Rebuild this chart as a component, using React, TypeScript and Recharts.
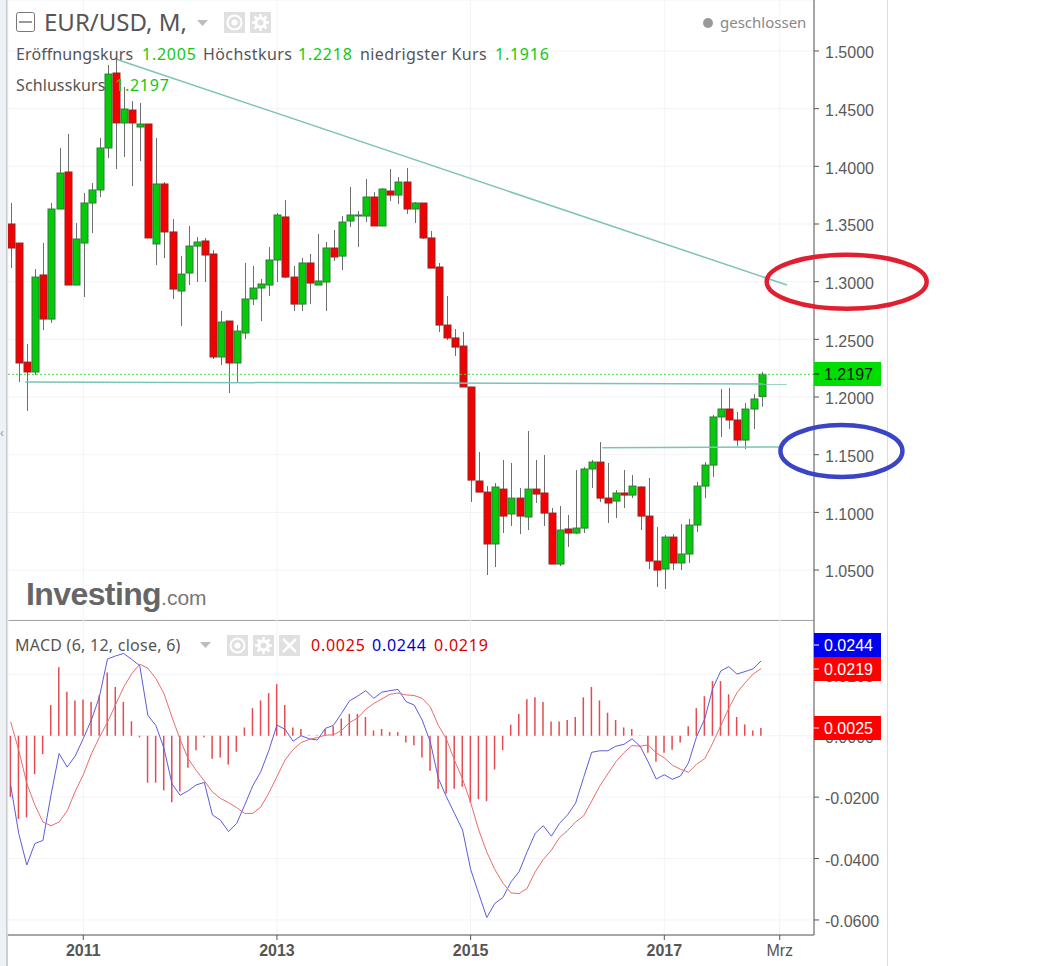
import { Bar, CartesianGrid, ComposedChart, Line, ReferenceDot, ReferenceLine, XAxis, YAxis } from "recharts";

// monthly candles, first one is 2010-04, month 0 = 2011-01
const firstMonth = -9;

const opens = [
  1.35, 1.3335, 1.2303, 1.2217, 1.3058, 1.2676, 1.363, 1.3951, 1.2971,
  1.3335, 1.3682, 1.3795, 1.4159, 1.4809, 1.4376, 1.4488, 1.4341, 1.4367, 1.3327, 1.3847, 1.3431,
  1.2919, 1.3075, 1.3309, 1.3353, 1.324, 1.2347, 1.2659, 1.2295, 1.2555, 1.285, 1.2945, 1.2971,
  1.3188, 1.3561, 1.304, 1.2806, 1.3162, 1.2971, 1.2997, 1.3292, 1.3222, 1.3526, 1.357, 1.3569,
  1.3734, 1.3483, 1.3786, 1.3751, 1.3864, 1.363, 1.3682, 1.3379, 1.3127, 1.2624, 1.2512, 1.2442,
  1.2087, 1.1272, 1.1176, 1.0726, 1.1202, 1.0986, 1.1124, 1.096, 1.1202, 1.1168, 1.0994, 1.0552,
  1.0856, 1.0821, 1.0864, 1.1376, 1.1436, 1.1124, 1.1098, 1.1168, 1.115, 1.122, 1.0968, 1.0578,
  1.0509, 1.0786, 1.0561, 1.0639, 1.089, 1.1228, 1.141, 1.1827, 1.1896, 1.1801, 1.1627, 1.1896, 1.2005,
];
const highs = [
  1.3682, 1.3335, 1.246, 1.311, 1.3335, 1.3682, 1.4159, 1.428, 1.3509,
  1.3769, 1.3855, 1.4246, 1.4878, 1.4922, 1.4688, 1.4566, 1.4549, 1.4367, 1.4246, 1.3864, 1.3543,
  1.3222, 1.3483, 1.3387, 1.3379, 1.3274, 1.2746, 1.2659, 1.2624, 1.3162, 1.3136, 1.3023, 1.33,
  1.3595, 1.3708, 1.3136, 1.3205, 1.324, 1.3413, 1.3344, 1.3448, 1.3569, 1.3821, 1.3613, 1.389,
  1.3777, 1.3812, 1.3977, 1.3907, 1.3985, 1.3691, 1.3682, 1.3439, 1.3162, 1.2876, 1.259, 1.2564,
  1.2087, 1.1523, 1.1228, 1.1254, 1.1454, 1.1428, 1.1211, 1.1705, 1.1454, 1.1497, 1.1038, 1.1055,
  1.0977, 1.1367, 1.1393, 1.1454, 1.161, 1.1428, 1.1194, 1.1367, 1.1324, 1.1228, 1.1298, 1.0873,
  1.0804, 1.0812, 1.0899, 1.0942, 1.1263, 1.1436, 1.1844, 1.2069, 1.2078, 1.187, 1.1948, 1.2026, 1.2218,
];
const lows = [
  1.3118, 1.213, 1.1879, 1.2191, 1.2581, 1.2642, 1.363, 1.2971, 1.2971,
  1.2867, 1.3422, 1.3734, 1.4072, 1.3977, 1.4081, 1.3829, 1.4046, 1.3379, 1.3144, 1.3205, 1.285,
  1.2616, 1.2971, 1.2997, 1.2997, 1.2329, 1.2277, 1.2035, 1.213, 1.2503, 1.2798, 1.2659, 1.2876,
  1.2997, 1.3032, 1.2746, 1.2746, 1.2806, 1.2971, 1.2746, 1.3179, 1.3101, 1.3474, 1.33, 1.3517,
  1.3483, 1.3483, 1.3699, 1.3673, 1.3587, 1.3509, 1.337, 1.3118, 1.2564, 1.2494, 1.2355, 1.2087,
  1.109, 1.1176, 1.0457, 1.0526, 1.0821, 1.0882, 1.0812, 1.0847, 1.1081, 1.0882, 1.0552, 1.0535,
  1.07, 1.0812, 1.0821, 1.1211, 1.109, 1.0908, 1.0951, 1.1038, 1.1124, 1.0847, 1.0509, 1.0353,
  1.0335, 1.05, 1.05, 1.0561, 1.083, 1.1124, 1.1306, 1.1653, 1.1723, 1.1575, 1.1549, 1.1723, 1.1916,
];
const closes = [
  1.3292, 1.2295, 1.2217, 1.304, 1.2676, 1.363, 1.3942, 1.2971, 1.337,
  1.3682, 1.3795, 1.4159, 1.48, 1.4376, 1.4497, 1.4376, 1.4367, 1.3379, 1.3847, 1.3431, 1.2936,
  1.3066, 1.3309, 1.3344, 1.3231, 1.2347, 1.265, 1.2295, 1.2572, 1.285, 1.2945, 1.298, 1.3188,
  1.3578, 1.304, 1.2806, 1.3162, 1.2988, 1.3006, 1.3292, 1.3214, 1.3517, 1.3578, 1.3578, 1.3734,
  1.3483, 1.3803, 1.3751, 1.3864, 1.363, 1.3682, 1.3379, 1.3118, 1.2624, 1.2512, 1.2433, 1.2087,
  1.128, 1.1176, 1.0726, 1.122, 1.0968, 1.1124, 1.0968, 1.1202, 1.1159, 1.0994, 1.0552, 1.0847,
  1.0821, 1.0864, 1.1376, 1.1436, 1.1124, 1.1081, 1.1168, 1.115, 1.1228, 1.0968, 1.0578, 1.05,
  1.0786, 1.0561, 1.0639, 1.089, 1.1228, 1.141, 1.1827, 1.1896, 1.1801, 1.1627, 1.1896, 1.1983, 1.2197,
];

const histogram = [
  -0.0199, -0.0271, -0.0266, -0.0125, -0.006, 0.01, 0.0223, 0.0143, 0.0115,
  0.0118, 0.011, 0.0132, 0.0206, 0.0159, 0.011, 0.0047, -0.0005, -0.0153, -0.0153, -0.0178, -0.0217,
  -0.0182, -0.0104, -0.0047, -0.0005, -0.0075, -0.0071, -0.0094, -0.0052, 0.0027, 0.009, 0.0115, 0.0139,
  0.0168, 0.01, 0.0027, 0.0022, 0.0002, 0.0002, 0.0022, 0.0031, 0.0056, 0.0071, 0.0071, 0.0061,
  0.0017, 0.0022, 0.0012, 0.0012, -0.0022, -0.0031, -0.0071, -0.0114, -0.0173, -0.0188, -0.0173, -0.0166,
  -0.0218, -0.0207, -0.0213, -0.011, -0.0047, 0.0036, 0.0071, 0.0119, 0.0125, 0.011, 0.0046, 0.0046,
  0.0051, 0.0061, 0.0125, 0.0159, 0.0115, 0.0075, 0.0051, 0.0027, 0.0022, 0.0001, -0.0055, -0.0085,
  -0.0055, -0.0046, -0.0022, 0.0031, 0.009, 0.0129, 0.0178, 0.0178, 0.0135, 0.0061, 0.0037, 0.0017, 0.0025,
];
const macdLine = [
  -0.0161, -0.0318, -0.0421, -0.0351, -0.0341, -0.0193, -0.0058, -0.0102, -0.0066,
  -0.0009, 0.0051, 0.0127, 0.025, 0.026, 0.0268, 0.0249, 0.0228, 0.0067, 0.0033, -0.0041, -0.0157,
  -0.0194, -0.0179, -0.016, -0.0152, -0.0258, -0.0275, -0.0312, -0.0286, -0.0226, -0.0163, -0.0117, -0.0047,
  0.0035, 0.0021, -0.0018, 0, -0.001, -0.0014, 0.0024, 0.0034, 0.0073, 0.0114, 0.0129, 0.0147,
  0.0122, 0.0142, 0.0147, 0.0151, 0.0111, 0.01, 0.0051, -0.002, -0.0139, -0.0199, -0.0253, -0.0307,
  -0.0435, -0.0514, -0.0592, -0.0546, -0.0527, -0.0476, -0.0443, -0.0378, -0.0318, -0.0293, -0.0327, -0.0286,
  -0.0258, -0.022, -0.0136, -0.0054, -0.0049, -0.0049, -0.0034, -0.0028, -0.001, -0.0034, -0.0085, -0.0141,
  -0.0127, -0.0142, -0.0131, -0.0088, -0.0003, 0.0054, 0.0154, 0.0211, 0.0225, 0.0201, 0.0209, 0.0218, 0.0244,
];
const signalLine = [
  0.0045, -0.0047, -0.0155, -0.0226, -0.0281, -0.0293, -0.0281, -0.0245, -0.0181,
  -0.0127, -0.0059, -0.0005, 0.0044, 0.0101, 0.0158, 0.0202, 0.0233, 0.022, 0.0186, 0.0137, 0.006,
  -0.0012, -0.0075, -0.0113, -0.0147, -0.0183, -0.0204, -0.0218, -0.0234, -0.0253, -0.0253, -0.0232, -0.0186,
  -0.0133, -0.0079, -0.0045, -0.0022, -0.0012, -0.0006, 0.0002, 0.0003, 0.0017, 0.0043, 0.0058, 0.0086,
  0.0105, 0.012, 0.0135, 0.0139, 0.0133, 0.0131, 0.0122, 0.0094, 0.0034, -0.0011, -0.008, -0.0141,
  -0.0217, -0.0307, -0.0379, -0.0436, -0.048, -0.0512, -0.0514, -0.0497, -0.0443, -0.0403, -0.0373, -0.0332,
  -0.0309, -0.0281, -0.0261, -0.0213, -0.0164, -0.0124, -0.0085, -0.0055, -0.0032, -0.0034, -0.003, -0.0056,
  -0.0072, -0.0096, -0.0109, -0.0119, -0.0093, -0.0075, -0.0024, 0.0033, 0.009, 0.014, 0.0172, 0.0201, 0.0219,
];

const xTicks = [0, 24, 48, 72, 86.3];
const xLabels = ["2011", "2013", "2015", "2017", "Mrz"];
const priceTicks = [1.5, 1.45, 1.4, 1.35, 1.3, 1.25, 1.2, 1.15, 1.1, 1.05];
const macdTicks = [0.02, 0, -0.02, -0.04, -0.06];

const xDomain = [-9.33, 90.55];
const priceDomain = [1.0067, 1.5442];
const macdDomain = [-0.0649, 0.0377];

const lastClose = 1.2197;
const downTrend = [{ x: 4, y: 1.4931 }, { x: 87.2, y: 1.2971 }];
const upperSupport = [{ x: -7.2, y: 1.213 }, { x: 87.2, y: 1.2113 }];
const lowerSupport = [{ x: 64.3, y: 1.1561 }, { x: 86.3, y: 1.1567 }];

const candles = opens.map((open, i) => ({
  month: firstMonth + i,
  range: [lows[i], highs[i]],
  open,
  close: closes[i],
  high: highs[i],
  low: lows[i],
}));
const macdRows = histogram.map((hist, i) => ({
  month: firstMonth + i,
  hist,
  macd: macdLine[i],
  signal: signalLine[i],
}));

const AXIS = "#555";
const GRID = "#f1f3f8";
const TEAL = "#7cc4b4";
const LEGEND_FONT = "'Noto Sans', sans-serif";
const TICK_FONT = "'Liberation Sans', Arial, sans-serif";
const tickStyle = { fill: "#5a5a5a", fontSize: 16, fontFamily: TICK_FONT, dy: 1.5 };

// low-high range comes in through the bar, body is worked out from it
function Candle(props: any) {
  const { x, y, width, height, payload } = props;
  const { open, close, high, low } = payload;
  const up = close >= open;
  const mid = Math.round(x + width / 2) + 0.5;
  const perUnit = height / (high - low);
  const top = y + (high - Math.max(open, close)) * perUnit;
  const bottom = y + (high - Math.min(open, close)) * perUnit;
  return (
    <g>
      <line x1={mid} x2={mid} y1={y} y2={y + height} stroke="#6e6e6e" strokeWidth={1} />
      <rect
        x={mid - 3.5}
        y={top}
        width={7}
        height={Math.max(bottom - top, 1)}
        fill={up ? "#06c90c" : "#f40000"}
        stroke={up ? "#2f7d34" : "#8e2626"}
        strokeWidth={1}
      />
    </g>
  );
}

function priceTag(text: string, fill: string, color: string, shift = 0) {
  return (props: any) => {
    const mid = Math.round(props.cy + shift);
    return (
      <g>
        <rect x={props.cx} y={mid - 12} width={67} height={24} fill={fill} />
        <line x1={props.cx} x2={props.cx + 5} y1={mid} y2={mid} stroke={color} />
        <text x={props.cx + 10} y={mid + 6} fontSize={16} fontFamily={TICK_FONT} fill={color}>
          {text}
        </text>
      </g>
    );
  };
}

function ring(rx: number, ry: number, stroke: string) {
  return (props: any) => (
    <ellipse cx={props.cx} cy={props.cy} rx={rx} ry={ry} fill="none" stroke={stroke} strokeWidth={4.5} />
  );
}

function MonthTick(props: any) {
  const { x, y, payload } = props;
  const label = xLabels[xTicks.indexOf(payload.value)];
  return (
    <text
      x={x}
      y={y + 14}
      textAnchor="middle"
      fontSize={16}
      fontFamily={TICK_FONT}
      fontWeight={label === "Mrz" ? "normal" : "bold"}
      fill="#555"
    >
      {label}
    </text>
  );
}

function SquareIcon({ left, top, kind }: { left: number; top: number; kind: "eye" | "gear" | "close" }) {
  return (
    <svg style={{ position: "absolute", left, top }} width={21} height={21}>
      <rect width={21} height={21} fill="#e0e0e0" />
      {kind === "eye" && (
        <g fill="none" stroke="#fff" strokeWidth={2}>
          <circle cx={10.5} cy={10.5} r={7} />
          <circle cx={10.5} cy={10.5} r={2} fill="#fff" />
        </g>
      )}
      {kind === "gear" && (
        <g fill="none" stroke="#fff">
          <circle cx={10.5} cy={10.5} r={4.5} strokeWidth={3} />
          <path d="M10.5 2v4M10.5 15v4M2 10.5h4M15 10.5h4M4.5 4.5l3 3M13.5 13.5l3 3M16.5 4.5l-3 3M7.5 13.5l-3 3" strokeWidth={2.5} />
        </g>
      )}
      {kind === "close" && <path d="M4 4l13 13M17 4L4 17" stroke="#fff" strokeWidth={2.5} />}
    </svg>
  );
}

function Caret({ left, top }: { left: number; top: number }) {
  return (
    <svg style={{ position: "absolute", left, top }} width={12} height={7}>
      <path d="M0 0h11L5.5 6z" fill="#bdbdbd" />
    </svg>
  );
}

function Label({ left, top, color = "#555", size = 16, font = LEGEND_FONT, spacing = 0.1, children }: any) {
  return (
    <div
      style={{
        position: "absolute",
        left,
        top,
        color,
        fontSize: size,
        fontFamily: font,
        letterSpacing: spacing,
        lineHeight: "20px",
        whiteSpace: "nowrap",
      }}
    >
      {children}
    </div>
  );
}

const GREEN_TEXT = "#12c912";
const RED_TEXT = "#dd0000";
const VALUE_SPACING = 0.75;

export default function App() {
  return (
    <div style={{ position: "absolute", left: 0, top: 0, width: 1043, height: 966, background: "#fff", overflow: "hidden" }}>
      <div style={{ position: "absolute", left: 0, top: 0, width: 6, height: 966, background: "#eef1f6" }} />
      <div style={{ position: "absolute", left: 6, top: 0, width: 2, height: 966, background: "#cbcdd2" }} />
      <div style={{ position: "absolute", left: 887, top: 0, width: 1, height: 966, background: "#d8dbe2" }} />

      <div style={{ position: "absolute", left: 0, top: 0 }}>
        <ComposedChart width={1043} height={620} data={candles} margin={{ top: 0, right: 156, bottom: 0, left: 8 }}>
          <CartesianGrid stroke={GRID} />
          <XAxis dataKey="month" type="number" domain={xDomain} ticks={xTicks} hide allowDataOverflow />
          <YAxis
            orientation="right"
            width={73}
            domain={priceDomain}
            ticks={priceTicks}
            allowDataOverflow
            tick={tickStyle}
            tickFormatter={(v: number) => v.toFixed(4)}
            stroke={AXIS}
            tickSize={5}
            tickMargin={6}
          />
          <ReferenceLine y={lastClose} stroke="#3fdc3f" strokeDasharray="2 2" />
          <Bar dataKey="range" barSize={7} shape={Candle} isAnimationActive={false} />
          <ReferenceLine segment={downTrend} stroke={TEAL} strokeWidth={1.5} ifOverflow="visible" />
          <ReferenceLine segment={upperSupport} stroke={TEAL} strokeWidth={1.5} ifOverflow="visible" />
          <ReferenceLine segment={lowerSupport} stroke={TEAL} strokeWidth={1.5} ifOverflow="visible" />
          <ReferenceDot x={xDomain[1]} y={lastClose} ifOverflow="visible" shape={priceTag("1.2197", "#00dd00", "#111")} />
          <ReferenceDot x={94.6} y={1.3} ifOverflow="visible" shape={ring(80, 27, "#e01f30")} />
          <ReferenceDot x={93.95} y={1.1532} ifOverflow="visible" shape={ring(61, 26, "#3a44c4")} />
        </ComposedChart>
      </div>

      <div style={{ position: "absolute", left: 8, top: 620, width: 806, height: 1, background: AXIS }} />

      <div style={{ position: "absolute", left: 0, top: 620 }}>
        <ComposedChart width={1043} height={346} data={macdRows} margin={{ top: 0, right: 156, bottom: 0, left: 8 }}>
          <CartesianGrid stroke={GRID} />
          <XAxis
            dataKey="month"
            type="number"
            domain={xDomain}
            ticks={xTicks}
            allowDataOverflow
            height={31}
            interval={0}
            stroke={AXIS}
            tickSize={5}
            tick={MonthTick}
          />
          <YAxis
            orientation="right"
            width={73}
            domain={macdDomain}
            ticks={macdTicks}
            allowDataOverflow
            tick={tickStyle}
            tickFormatter={(v: number) => v.toFixed(4)}
            stroke={AXIS}
            tickSize={5}
            tickMargin={6}
          />
          <Bar dataKey="hist" barSize={1.5} fill="#e54b50" isAnimationActive={false} />
          <Line dataKey="macd" type="linear" dot={false} stroke="#5c5cdc" strokeWidth={1} isAnimationActive={false} />
          <Line dataKey="signal" type="linear" dot={false} stroke="#ea6c6c" strokeWidth={1} isAnimationActive={false} />
        </ComposedChart>
      </div>

      {/* last value tags sit in their own layer so they cover the axis ticks */}
      <div style={{ position: "absolute", left: 0, top: 620 }}>
        <ComposedChart width={1043} height={346} data={macdRows} margin={{ top: 0, right: 229, bottom: 31, left: 8 }}>
          <XAxis dataKey="month" type="number" domain={xDomain} hide allowDataOverflow />
          <YAxis domain={macdDomain} hide allowDataOverflow />
          <ReferenceDot x={xDomain[1]} y={0.0025} ifOverflow="visible" shape={priceTag("0.0025", "#ff0000", "#fff")} />
          <ReferenceDot x={xDomain[1]} y={0.0219} ifOverflow="visible" shape={priceTag("0.0219", "#ff0000", "#fff")} />
          <ReferenceDot x={xDomain[1]} y={0.0244} ifOverflow="visible" shape={priceTag("0.0244", "#0000f0", "#fff", -16)} />
        </ComposedChart>
      </div>

      <svg style={{ position: "absolute", left: 16, top: 12 }} width={19} height={20}>
        <rect x={0.5} y={0.5} width={18} height={19} rx={2} fill="#fff" stroke="#777" />
        <path d="M3 10h13" stroke="#777" strokeWidth={1.5} />
      </svg>
      <Label left={44} top={12} size={24} spacing={0}>EUR/USD, M,</Label>
      <Caret left={197} top={20} />
      <SquareIcon left={224} top={12} kind="eye" />
      <SquareIcon left={250} top={12} kind="gear" />

      <svg style={{ position: "absolute", left: 702, top: 17 }} width={12} height={12}>
        <circle cx={6} cy={6} r={5} fill="#999" />
      </svg>
      <Label left={720} top={12} size={15} color="#888" spacing={0}>geschlossen</Label>

      <Label left={16} top={44}>Eröffnungskurs</Label>
      <Label left={142} top={44} color={GREEN_TEXT} spacing={VALUE_SPACING}>1.2005</Label>
      <Label left={203} top={44} spacing={0.4}>Höchstkurs</Label>
      <Label left={298} top={44} color={GREEN_TEXT} spacing={VALUE_SPACING}>1.2218</Label>
      <Label left={360} top={44} spacing={0.4}>niedrigster Kurs</Label>
      <Label left={495} top={44} color={GREEN_TEXT} spacing={VALUE_SPACING}>1.1916</Label>
      <Label left={16} top={75}>Schlusskurs</Label>
      <Label left={115} top={75} color={GREEN_TEXT} spacing={VALUE_SPACING}>1.2197</Label>

      <Label left={26} top={578} size={32} color="#666" font={TICK_FONT} spacing={0}>
        <span style={{ fontWeight: "bold", letterSpacing: -0.6, lineHeight: "32px" }}>Investing</span>
        <span style={{ fontSize: 21, color: "#777" }}>.com</span>
      </Label>

      <Label left={15} top={635} spacing={0.25}>MACD (6, 12, close, 6)</Label>
      <Caret left={200} top={642} />
      <SquareIcon left={227} top={635} kind="eye" />
      <SquareIcon left={253} top={635} kind="gear" />
      <SquareIcon left={279} top={635} kind="close" />
      <Label left={311} top={635} color={RED_TEXT} spacing={VALUE_SPACING}>0.0025</Label>
      <Label left={372} top={635} color="#0000c8" spacing={VALUE_SPACING}>0.0244</Label>
      <Label left={434} top={635} color={RED_TEXT} spacing={VALUE_SPACING}>0.0219</Label>

      <Label left={0} top={423} size={12} color="#999">‹</Label>
    </div>
  );
}
